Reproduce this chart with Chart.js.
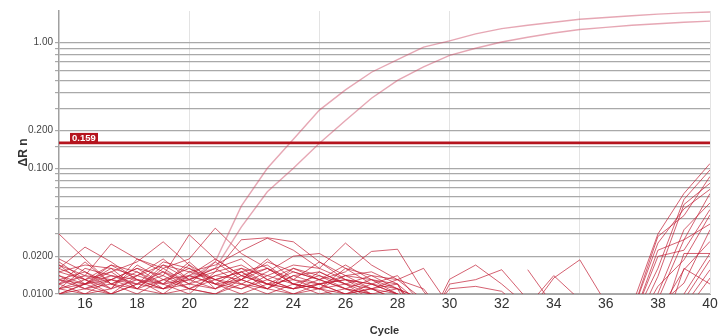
<!DOCTYPE html>
<html>
<head>
<meta charset="utf-8">
<script src="https://cdn.jsdelivr.net/npm/chart.js@4.4.1/dist/chart.umd.min.js"></script>
<style>
  html, body { margin: 0; padding: 0; background: #fff; }
</style>
</head>
<body>
<canvas id="chart" width="722" height="336"></canvas>
<script>
// cycle numbers on the x axis
const cycles = [15,16,17,18,19,20,21,22,23,24,25,26,27,28,29,30,31,32,33,34,35,36,37,38,39,40];

// the two wells that amplify
const ampA = [0.013,0.011,0.014,0.012,0.015,0.013,0.018,0.05,0.1,0.17,0.29,0.42,0.58,0.73,0.92,1.03,1.17,1.29,1.37,1.45,1.53,1.58,1.63,1.68,1.72,1.75];
const ampB = [0.012,0.014,0.011,0.013,0.012,0.014,0.016,0.034,0.065,0.1,0.158,0.24,0.36,0.5,0.64,0.79,0.9,1.01,1.1,1.19,1.27,1.32,1.37,1.41,1.45,1.48];

// baseline wells (values under 0.0100 fall off the plot)
const baselineWells = [
  [0.030,0.019,0.012,0.015,0.011,0.013,0.016,0.012,0.010,0.012,0.011,0.009,0.008,0.007,0.006,0.006,0.006,0.006,0.006,0.006,0.006,0.006,0.008,0.030,0.063,0.109],
  [0.016,0.0236,0.018,0.013,0.012,0.017,0.011,0.014,0.012,0.010,0.012,0.010,0.011,0.009,0.007,0.006,0.006,0.006,0.006,0.006,0.006,0.006,0.006,0.016,0.0565,0.097],
  [0.012,0.014,0.025,0.019,0.015,0.012,0.018,0.013,0.011,0.014,0.012,0.013,0.010,0.008,0.006,0.006,0.006,0.006,0.006,0.006,0.006,0.006,0.007,0.0287,0.042,0.086],
  [0.011,0.013,0.015,0.018,0.026,0.017,0.013,0.015,0.012,0.011,0.013,0.011,0.010,0.009,0.007,0.006,0.006,0.006,0.006,0.006,0.006,0.006,0.005,0.0138,0.0515,0.076],
  [0.014,0.011,0.013,0.016,0.014,0.0296,0.019,0.014,0.016,0.012,0.011,0.012,0.009,0.008,0.006,0.006,0.006,0.006,0.006,0.006,0.006,0.006,0.007,0.0254,0.0475,0.068],
  [0.013,0.015,0.012,0.011,0.016,0.019,0.0334,0.021,0.016,0.012,0.014,0.011,0.010,0.008,0.006,0.006,0.006,0.006,0.006,0.006,0.006,0.006,0.006,0.0223,0.027,0.063],
  [0.010,0.012,0.014,0.013,0.011,0.015,0.017,0.022,0.0278,0.0223,0.016,0.013,0.012,0.010,0.008,0.006,0.006,0.006,0.006,0.006,0.006,0.006,0.004,0.0101,0.0324,0.053],
  [0.015,0.017,0.016,0.014,0.019,0.013,0.015,0.027,0.028,0.026,0.018,0.014,0.013,0.011,0.009,0.006,0.006,0.006,0.006,0.006,0.006,0.006,0.006,0.0199,0.0223,0.047],
  [0.012,0.010,0.011,0.017,0.013,0.014,0.012,0.016,0.014,0.017,0.016,0.0254,0.017,0.013,0.011,0.006,0.006,0.006,0.006,0.006,0.006,0.006,0.005,0.0115,0.0187,0.0426],
  [0.017,0.014,0.013,0.012,0.015,0.011,0.014,0.013,0.018,0.015,0.013,0.015,0.0218,0.0227,0.0105,0.006,0.006,0.006,0.006,0.006,0.006,0.006,0.004,0.009,0.027,0.036],
  [0.011,0.016,0.014,0.012,0.018,0.016,0.013,0.012,0.015,0.020,0.021,0.016,0.012,0.011,0.009,0.006,0.006,0.006,0.006,0.006,0.006,0.006,0.004,0.008,0.0122,0.0324],
  [0.013,0.012,0.017,0.015,0.012,0.010,0.015,0.017,0.013,0.016,0.014,0.012,0.014,0.013,0.016,0.008,0.006,0.006,0.006,0.006,0.006,0.006,0.003,0.007,0.0156,0.0262],
  [0.018,0.013,0.011,0.019,0.016,0.012,0.011,0.013,0.019,0.013,0.012,0.014,0.011,0.012,0.005,0.0131,0.017,0.012,0.008,0.006,0.006,0.006,0.003,0.006,0.010,0.0211],
  [0.010,0.011,0.010,0.012,0.014,0.011,0.010,0.012,0.011,0.014,0.015,0.012,0.010,0.011,0.005,0.012,0.013,0.0156,0.009,0.006,0.006,0.006,0.003,0.005,0.009,0.0187],
  [0.014,0.012,0.015,0.011,0.010,0.014,0.012,0.011,0.014,0.012,0.010,0.011,0.013,0.012,0.006,0.011,0.0115,0.0105,0.007,0.006,0.006,0.006,0.003,0.005,0.008,0.0156],
  [0.012,0.018,0.012,0.014,0.017,0.015,0.013,0.011,0.013,0.011,0.012,0.013,0.011,0.009,0.006,0.006,0.006,null,0.0156,0.008,0.006,0.006,0.003,0.004,0.007,0.0134],
  [0.016,0.013,0.017,0.013,0.011,0.012,0.014,0.016,0.012,0.013,0.011,0.010,0.012,0.010,0.006,0.006,0.006,0.006,0.007,0.0134,0.0187,0.0085,0.004,0.005,0.021,0.021],
  [0.011,0.012,0.013,0.016,0.012,0.018,0.012,0.013,0.011,0.016,0.013,0.011,0.009,0.008,0.006,0.006,0.006,0.006,0.008,0.014,0.009,0.006,0.003,0.004,0.016,0.012],
  [0.013,0.011,0.012,0.010,0.013,0.016,0.012,0.010,0.012,0.011,0.015,0.012,0.011,0.010,0.007,0.005,0.005,0.005,0.005,0.005,0.005,0.005,0.004,0.004,0.004,0.004],
  [0.019,0.015,0.011,0.013,0.010,0.011,0.013,0.015,0.017,0.012,0.011,0.016,0.014,0.011,0.008,0.005,0.005,0.005,0.005,0.005,0.005,0.005,0.004,0.004,0.004,0.004],
  [0.010,0.012,0.016,0.011,0.017,0.013,0.016,0.019,0.013,0.011,0.012,0.010,0.011,0.013,0.009,0.005,0.005,0.005,0.005,0.005,0.005,0.005,0.004,0.004,0.004,0.004],
  [0.015,0.013,0.010,0.012,0.011,0.014,0.019,0.014,0.012,0.015,0.013,0.017,0.013,0.010,0.007,0.005,0.005,0.005,0.005,0.005,0.005,0.005,0.004,0.004,0.004,0.004],
  [0.011,0.010,0.013,0.011,0.013,0.011,0.010,0.013,0.016,0.013,0.018,0.013,0.012,0.014,0.008,0.005,0.005,0.005,0.005,0.005,0.005,0.005,0.004,0.004,0.004,0.004],
  [0.017,0.012,0.010,0.014,0.012,0.013,0.011,0.015,0.011,0.010,0.011,0.014,0.015,0.012,0.008,0.005,0.005,0.005,0.005,0.005,0.005,0.005,0.004,0.004,0.004,0.004]
];

const threshold = 0.159;
const thresholdLabel = '0.159';

// y labels that are printed (other gridlines stay unlabelled)
const yLabelValues = [0.01, 0.02, 0.1, 0.2, 1];
const yLabelTexts = ['0.0100', '0.0200', '0.100', '0.200', '1.00'];

const RED = '#b5141e';

Chart.defaults.font.family = '"Liberation Sans", Arial, sans-serif';
Chart.defaults.color = '#333';

function toPoints(values) {
  return values.map((v, i) => ({ x: cycles[i], y: v }));
}

const datasets = [];

// threshold on top
datasets.push({
  data: [{ x: cycles[0], y: threshold }, { x: cycles[cycles.length - 1], y: threshold }],
  borderColor: RED,
  borderWidth: 2.6,
  pointRadius: 0
});

datasets.push({ data: toPoints(ampA), borderColor: 'rgba(205,80,105,0.5)', borderWidth: 1.4, pointRadius: 0 });
datasets.push({ data: toPoints(ampB), borderColor: 'rgba(205,80,105,0.5)', borderWidth: 1.4, pointRadius: 0 });

baselineWells.forEach(w => {
  datasets.push({ data: toPoints(w), borderColor: 'rgba(192,22,45,0.68)', borderWidth: 1, pointRadius: 0 });
});

// white-on-red box with the threshold value
const thresholdTag = {
  id: 'thresholdTag',
  afterDatasetsDraw(chart) {
    const { ctx, scales } = chart;
    const x = scales.x.getPixelForValue(cycles[0]) + 11;
    const y = scales.y.getPixelForValue(threshold);
    ctx.save();
    ctx.fillStyle = RED;
    ctx.fillRect(x, y - 10, 28, 10);
    ctx.fillStyle = '#fff';
    ctx.font = 'bold 9.5px "Liberation Sans", Arial, sans-serif';
    ctx.textBaseline = 'alphabetic';
    ctx.fillText(thresholdLabel, x + 2, y - 1.8);
    ctx.restore();
  }
};

new Chart(document.getElementById('chart'), {
  type: 'line',
  data: { datasets: datasets },
  plugins: [thresholdTag],
  options: {
    responsive: false,
    animation: false,
    layout: { padding: { top: 11, right: 12, left: 0, bottom: 0 } },
    elements: { line: { tension: 0 } },
    plugins: { legend: { display: false }, tooltip: { enabled: false } },
    scales: {
      x: {
        type: 'linear',
        min: 15,
        max: 40,
        afterFit: s => { s.height = 42; },
        ticks: {
          stepSize: 1,
          autoSkip: false,
          maxRotation: 0,
          padding: 2,
          color: '#333',
          font: { size: 14 },
          callback: v => (v % 2 === 0 ? v : '')
        },
        grid: {
          drawTicks: false,
          lineWidth: 1,
          color: c => (c.tick && c.tick.value % 5 === 0 && c.tick.value > 15 ? '#e3e3e3' : 'rgba(0,0,0,0)')
        },
        border: { color: '#a6a6a6', width: 1 },
        title: {
          display: true,
          text: 'Cycle',
          color: '#333',
          font: { size: 11, weight: 'bold', lineHeight: 1 },
          padding: { top: 0, bottom: 0 }
        }
      },
      y: {
        type: 'logarithmic',
        min: 0.01,
        max: 1.78,
        afterFit: s => { s.width = 59; },
        ticks: {
          autoSkip: false,
          padding: 2,
          color: '#444',
          font: { size: 10 },
          callback: value => {
            const i = yLabelValues.findIndex(v => Math.abs(v - value) < v * 1e-6);
            return i >= 0 ? yLabelTexts[i] : '';
          }
        },
        grid: {
          tickLength: 4,
          lineWidth: 1.2,
          color: c => (c.tick && c.tick.value > 1.0001 ? 'rgba(0,0,0,0)' : '#a9a9a9')
        },
        border: { color: '#a0a0a0', width: 1.5 },
        title: {
          display: true,
          text: 'ΔR n',
          color: '#333',
          font: { size: 12, weight: 'bold' },
          padding: { top: 16, bottom: 0 }
        }
      }
    }
  }
});
</script>
</body>
</html>
